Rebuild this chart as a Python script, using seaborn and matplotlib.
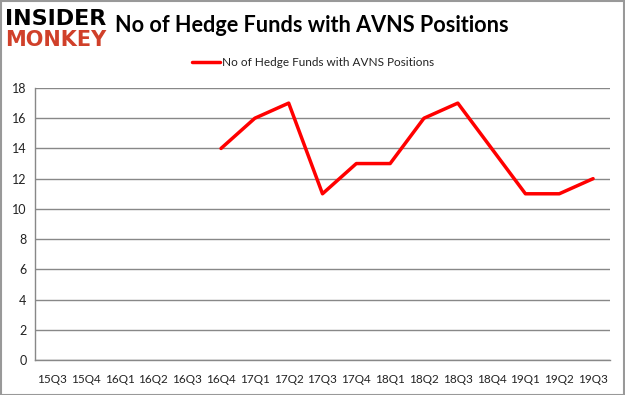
import matplotlib
matplotlib.use("Agg")
import matplotlib.pyplot as plt
import seaborn as sns
import numpy as np
import pandas as pd
from matplotlib.patches import Rectangle

quarters = ["15Q3", "15Q4", "16Q1", "16Q2", "16Q3", "16Q4", "17Q1", "17Q2", "17Q3",
            "17Q4", "18Q1", "18Q2", "18Q3", "18Q4", "19Q1", "19Q2", "19Q3"]
funds = [np.nan, np.nan, np.nan, np.nan, np.nan, 14, 16, 17, 11, 13, 13, 16, 17, 14, 11, 11, 12]
series_name = "No of Hedge Funds with AVNS Positions"
y_ticks = [0, 2, 4, 6, 8, 10, 12, 14, 16, 18]

sns.set_style("white")
plt.rcParams['font.family'] = ['Lato', 'DejaVu Sans']

df = pd.DataFrame({"idx": np.arange(len(quarters)), "val": funds})

fig = plt.figure(figsize=(6.25, 3.95), dpi=100)
ax = fig.add_axes([35/625, 35/395, 575/625, 272/395])

sns.lineplot(data=df, x="idx", y="val", ax=ax, color="#ff0000", linewidth=2.5, legend=False)

ax.set_xlim(-0.5, len(quarters) - 0.5)
ax.set_ylim(0, 18)
ax.set_yticks(y_ticks)
ax.set_yticklabels([str(v) for v in y_ticks], fontsize=9, color="#222222")
ax.set_xticks(np.arange(len(quarters)))
ax.set_xticklabels(quarters, fontsize=8.5, color="#222222")
ax.set_xticks(np.arange(-0.5, len(quarters), 1), minor=True)
ax.tick_params(axis="x", which="major", length=0, pad=10)
ax.tick_params(axis="x", which="minor", length=4, color="#888888", width=1)
ax.tick_params(axis="y", which="major", length=4, color="#888888", width=1, pad=2)
ax.set_xlabel("")
ax.set_ylabel("")
ax.grid(axis="y", color="#888888", linewidth=1)
ax.set_axisbelow(True)
for s in ["top", "right"]:
    ax.spines[s].set_visible(False)
for s in ["left", "bottom"]:
    ax.spines[s].set_color("#888888")
    ax.spines[s].set_linewidth(1)

# Title and logo
fig.text(115/625, 1 - 25/395, "No of Hedge Funds with AVNS Positions", fontsize=15.6,
         fontweight="bold", ha="left", va="center", color="black")
fig.text(5/625, 1 - 19/395, "INSIDER", fontsize=16, fontweight="bold", ha="left", va="center",
         color="black", family=["DejaVu Sans"])
fig.text(5/625, 1 - 40/395, "MONKEY", fontsize=15, fontweight="bold", ha="left", va="center",
         color="#d0402a", family=["DejaVu Sans"])

# Legend
fig.add_artist(plt.Line2D([192/625, 220/625], [1 - 62/395, 1 - 62/395], color="#ff0000", linewidth=2.5))
fig.text(222/625, 1 - 62/395, series_name, fontsize=8.5, ha="left", va="center", color="#222222")

# Border
fig.add_artist(Rectangle((0.5/625, 0.5/395), 1 - 1.5/625, 1 - 1.5/395, transform=fig.transFigure,
                         fill=False, edgecolor="#999999", linewidth=1.5))

fig.savefig("out.png", dpi=100)
